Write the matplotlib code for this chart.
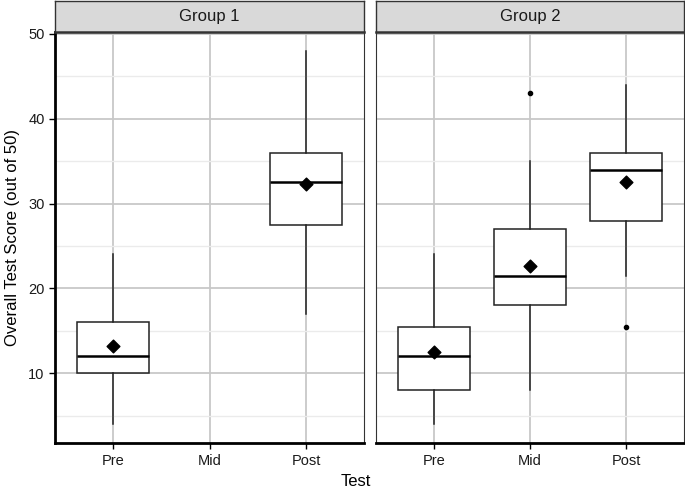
import matplotlib.pyplot as plt

plt.rcParams["font.family"] = ["Liberation Sans", "DejaVu Sans"]

# categories and facet groups
tests = ["Pre", "Mid", "Post"]
groups = ["Group 1", "Group 2"]

# box stats per group: (position index, whislo, q1, med, q3, whishi, mean, outliers)
g1_pos = [1, 3]
g1_whislo = [4, 17]
g1_q1 = [10, 27.5]
g1_med = [12, 32.5]
g1_q3 = [16, 36]
g1_whishi = [24, 48]
g1_mean = [13.2, 32.3]
g1_fliers = [[], []]

g2_pos = [1, 2, 3]
g2_whislo = [4, 8, 21.5]
g2_q1 = [8, 18, 28]
g2_med = [12, 21.5, 34]
g2_q3 = [15.5, 27, 36]
g2_whishi = [24, 35, 44]
g2_mean = [12.5, 22.6, 32.5]
g2_fliers = [[], [43], [15.5]]

W, H = 685, 493
fig = plt.figure(figsize=(W / 100, H / 100), dpi=100)


def px_axes(x0, y0, x1, y1):
    return fig.add_axes([x0 / W, (H - y1) / H, (x1 - x0) / W, (y1 - y0) / H])


panels = [
    (55, 364, g1_pos, g1_whislo, g1_q1, g1_med, g1_q3, g1_whishi, g1_mean, g1_fliers),
    (376, 684, g2_pos, g2_whislo, g2_q1, g2_med, g2_q3, g2_whishi, g2_mean, g2_fliers),
]

for i, (x0, x1, pos, wlo, q1, med, q3, whi, mean, fl) in enumerate(panels):
    ax = px_axes(x0, 32, x1, 443)
    stats = []
    for j in range(len(pos)):
        stats.append(dict(whislo=wlo[j], q1=q1[j], med=med[j], q3=q3[j],
                          whishi=whi[j], fliers=fl[j]))
    ax.bxp(stats, positions=pos, widths=0.75, patch_artist=True, showcaps=False,
           boxprops=dict(facecolor="white", edgecolor="#222222", linewidth=1.1),
           medianprops=dict(color="black", linewidth=1.8),
           whiskerprops=dict(color="#222222", linewidth=1.1),
           flierprops=dict(marker="o", markersize=3, markerfacecolor="black",
                           markeredgecolor="black"),
           zorder=3)
    ax.scatter(pos, mean, marker="D", s=42, color="black", zorder=5)

    ax.set_xlim(0.4, 3.6)
    ax.set_ylim(1.8, 50.2)
    ax.set_xticks([1, 2, 3])
    ax.set_xticklabels(tests, fontsize=10.5, color="#1a1a1a")
    ax.set_yticks([10, 20, 30, 40, 50])
    ax.set_yticks([5, 15, 25, 35, 45], minor=True)
    ax.grid(True, which="major", color="#c8c8c8", linewidth=1.3, zorder=0)
    ax.grid(True, which="minor", axis="y", color="#ebebeb", linewidth=1.0, zorder=0)
    ax.set_axisbelow(True)
    for s in ["top", "right"]:
        ax.spines[s].set_linewidth(0.8)
        ax.spines[s].set_color("#333333")
    ax.spines["bottom"].set_linewidth(2.0)
    ax.spines["bottom"].set_color("black")
    if i == 0:
        ax.spines["left"].set_linewidth(2.0)
        ax.spines["left"].set_color("black")
        ax.tick_params(axis="y", labelsize=10.5, labelcolor="#1a1a1a", length=4, width=1)
        ax.set_ylabel("Overall Test Score (out of 50)", fontsize=12, labelpad=6)
    else:
        ax.spines["left"].set_linewidth(0.8)
        ax.spines["left"].set_color("#333333")
        ax.tick_params(axis="y", left=False, labelleft=False)
    ax.tick_params(axis="y", which="minor", left=False)
    ax.tick_params(axis="x", length=4, width=1, pad=4)

    # facet strip
    sax = px_axes(x0, 1, x1, 32)
    sax.set_facecolor("#d9d9d9")
    sax.set_xticks([])
    sax.set_yticks([])
    for s in sax.spines.values():
        s.set_linewidth(1.0)
        s.set_color("#333333")
    sax.spines["bottom"].set_linewidth(1.8)
    sax.text(0.5, 0.5, groups[i], ha="center", va="center", fontsize=12,
             color="#1a1a1a", transform=sax.transAxes)

fig.text(356 / W, (H - 481) / H, "Test", ha="center", va="center", fontsize=12)

fig.savefig("out.png", dpi=100)
